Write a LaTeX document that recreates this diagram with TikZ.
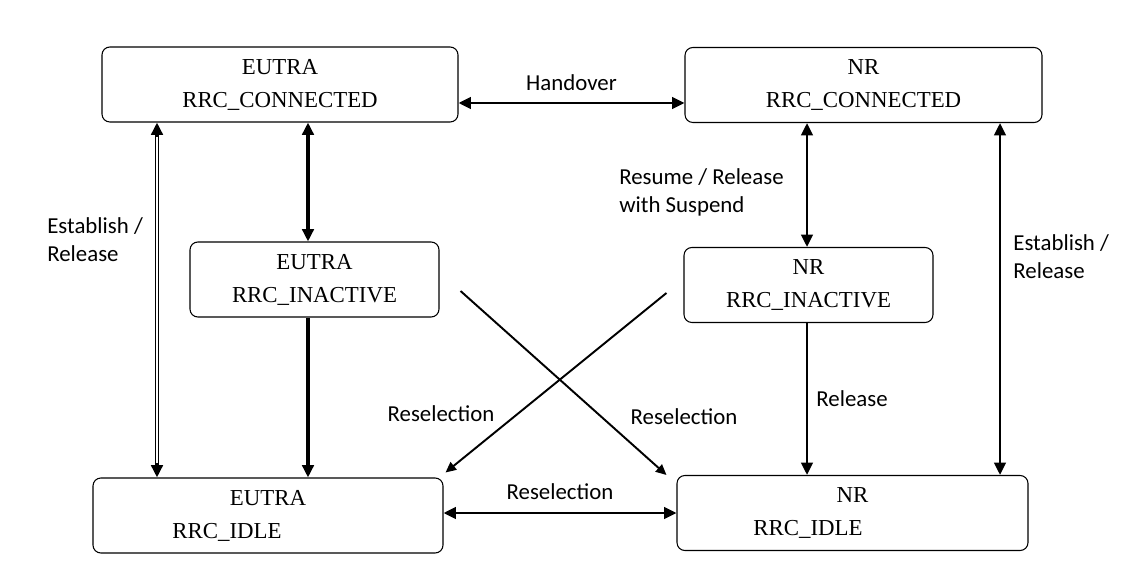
\documentclass[tikz,border=0pt]{standalone}
\usepackage{fontspec}
\setmainfont{Liberation Serif}
\newfontfamily\lblfont{Carlito}
\usetikzlibrary{arrows.meta, positioning, calc}

\begin{document}
\begin{tikzpicture}[
    >={Triangle[length=7pt,width=6.5pt]},
    state/.style={draw, rounded corners=4.5pt, line width=0.6pt, minimum height=1.5cm, inner sep=0pt, align=center, font=\fontsize{13pt}{18.8pt}\selectfont},
    lbl/.style={inner sep=0pt, align=left, font=\lblfont\fontsize{13pt}{16pt}\selectfont},
    trans/.style={line width=1.6pt},
    resel/.style={line width=1.1pt, -{Triangle[length=6pt,width=5.5pt]}}
]
\useasboundingbox (0,0) rectangle (22.66,11.6);

\node[state, minimum width=7.12cm] (econ) at (5.60,9.91) {EUTRA\\RRC\_CONNECTED};
\node[state, minimum width=7.14cm] (ncon) at (17.27,9.90) {NR\\RRC\_CONNECTED};
\node[state, minimum width=4.98cm] (einact) at (6.29,6.01) {EUTRA\\RRC\_INACTIVE};
\node[state, minimum width=4.98cm] (ninact) at (16.17,5.90) {NR\\RRC\_INACTIVE};
\node[state, minimum width=7.00cm] (eidle) at (5.36,1.29) {EUTRA\\RRC\_IDLE\rule{1.64cm}{0pt}};
\node[state, minimum width=7.02cm] (nidle) at (17.05,1.34) {NR\\RRC\_IDLE\rule{1.78cm}{0pt}};

\coordinate (lx) at (3.14,0);
\coordinate (mx) at (6.16,0);
\coordinate (nx) at (16.14,0);
\coordinate (rx) at (20.00,0);
\coordinate (hy) at (0,9.54);
\coordinate (by) at (0,1.34);

\draw[trans, <->] (econ.east |- hy) -- node[lbl, above=6.5pt] {Handover} (ncon.west |- hy);

\draw[<->, line width=2.4pt] (econ.south -| lx) -- node[lbl, pos=0.33, left=0.24cm] {Establish /\\Release} (eidle.north -| lx);
\draw[white, line width=0.8pt, shorten <=8pt, shorten >=8pt] (econ.south -| lx) -- (eidle.north -| lx);

\draw[<->, line width=2pt] (econ.south -| mx) -- (einact.north -| mx);
\draw[->, line width=2pt] (einact.south -| mx) -- (eidle.north -| mx);

\draw[trans, <->] (ncon.south -| nx) -- node[lbl, pos=0.56, left=0.44cm] {Resume / Release\\with Suspend} (ninact.north -| nx);
\draw[trans, ->] (ninact.south -| nx) -- node[lbl, midway, right=0.16cm] {Release} (nidle.north -| nx);

\draw[trans, <->] (ncon.south -| rx) -- node[lbl, pos=0.38, right=0.24cm] {Establish /\\Release} (nidle.north -| rx);

\draw[resel] ([xshift=0.42cm,yshift=-0.23cm]einact.east) -- ([xshift=-0.2cm]nidle.north west);
\draw[resel] ([xshift=-0.34cm,yshift=-0.16cm]ninact.west) -- ([xshift=0.04cm,yshift=0.1cm]eidle.north east);
\node[lbl] (resl) at (8.82,3.32) {Reselection};
\node[lbl] (resr) at (13.68,3.26) {Reselection};

\draw[trans, <->] (eidle.east |- by) -- node[lbl, above=7pt] {Reselection} (nidle.west |- by);

\end{tikzpicture}
\end{document}
